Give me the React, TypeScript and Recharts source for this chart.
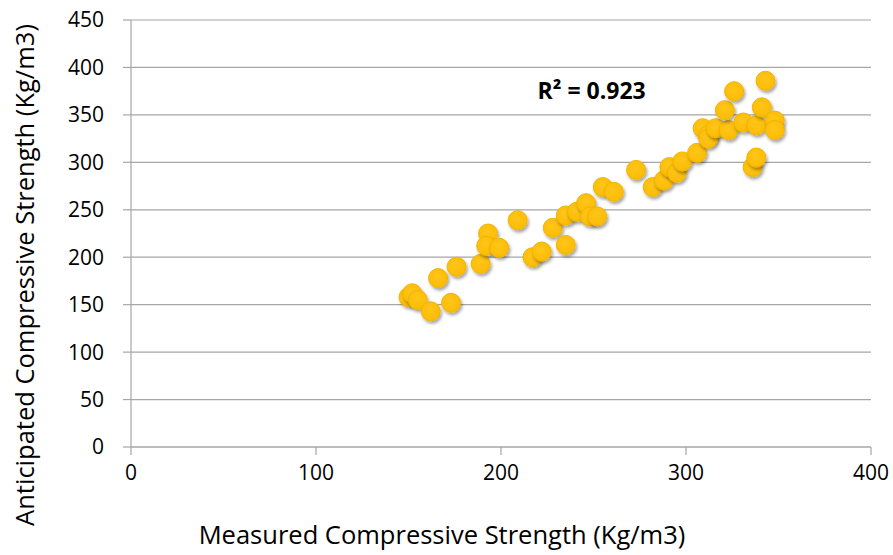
import { ScatterChart, Scatter, XAxis, YAxis, CartesianGrid, ReferenceDot } from 'recharts';

const measured = [
  150, 152, 155, 162, 173, 166, 176, 189, 193, 192, 199, 209, 217, 222, 228, 235,
  235, 241, 246, 248, 252, 255, 261, 273, 282, 288, 291, 295, 298, 306, 309, 312,
  312, 316, 323, 321, 326, 331, 338, 341, 343, 336, 338, 348, 348,
];
const anticipated = [
  158, 162, 155, 143, 152, 178, 190, 193, 225, 212, 210, 239, 200, 206, 231, 213,
  244, 248, 257, 243, 243, 274, 269, 292, 274, 281, 295, 289, 301, 310, 336, 329,
  325, 336, 334, 355, 375, 342, 339, 358, 386, 295, 305, 344, 334,
];
const xTicks = [0, 100, 200, 300, 400];
const yTicks = [0, 50, 100, 150, 200, 250, 300, 350, 400, 450];
const xTitle = 'Measured Compressive Strength (Kg/m3)';
const yTitle = 'Anticipated Compressive Strength (Kg/m3)';
const rSquared = 'R² = 0.923';

const points = measured.map((x, i) => ({ x, y: anticipated[i] }));

const FONT = '"Open Sans", sans-serif';
const GRID = '#A6A6A6';

function Dot(props: any) {
  const { cx, cy } = props;
  return (
    <circle
      cx={cx}
      cy={cy}
      r={9.5}
      fill="url(#goldFill)"
      stroke="#F0B400"
      strokeWidth={1}
      filter="url(#dotShadow)"
    />
  );
}

// axis titles sit centred on the whole picture, not on the plot area
const XTitle = () => (
  <text x={442} y={534} textAnchor="middle" dominantBaseline="central" fill="#000" fontSize={25.5} fontFamily={FONT}>
    {xTitle}
  </text>
);

const YTitle = () => (
  <text
    x={24}
    y={275}
    transform="rotate(-90 24 275)"
    textAnchor="middle"
    dominantBaseline="central"
    fill="#000"
    fontSize={25.5}
    fontFamily={FONT}
  >
    {yTitle}
  </text>
);

export default function App() {
  return (
    <div style={{ position: 'absolute', left: 0, top: 0, width: 893, height: 555, background: '#fff' }}>
      <svg width={0} height={0} style={{ position: 'absolute' }}>
        <defs>
          <radialGradient id="goldFill" cx="45%" cy="40%" r="65%">
            <stop offset="0%" stopColor="#FFC61A" />
            <stop offset="100%" stopColor="#FCBA00" />
          </radialGradient>
          <filter id="dotShadow" x="-50%" y="-50%" width="200%" height="200%">
            <feDropShadow dx={1.5} dy={2.5} stdDeviation={1.8} floodColor="#000" floodOpacity={0.35} />
          </filter>
        </defs>
      </svg>
      <ScatterChart width={893} height={555} margin={{ top: 20, right: 22, bottom: 0, left: 0 }}>
        <CartesianGrid vertical={false} stroke={GRID} strokeWidth={1.2} />
        <XAxis
          type="number"
          dataKey="x"
          domain={[0, 400]}
          ticks={xTicks}
          interval={0}
          height={108}
          tickSize={8}
          tickMargin={10}
          axisLine={{ stroke: GRID, strokeWidth: 1.2 }}
          tickLine={{ stroke: GRID, strokeWidth: 1.2 }}
          tick={{ fill: '#000', fontSize: 21, fontFamily: FONT }}
          label={<XTitle />}
        />
        <YAxis
          type="number"
          dataKey="y"
          domain={[0, 450]}
          ticks={yTicks}
          interval={0}
          width={131}
          tickSize={8}
          tickMargin={19}
          axisLine={{ stroke: GRID, strokeWidth: 1.2 }}
          tickLine={{ stroke: GRID, strokeWidth: 1.2 }}
          tick={{ fill: '#000', fontSize: 21, fontFamily: FONT }}
          label={<YTitle />}
        />
        <Scatter data={points} shape={<Dot />} isAnimationActive={false} />
        <ReferenceDot
          x={249}
          y={375}
          r={0}
          fill="none"
          stroke="none"
          label={{
            value: rSquared,
            position: 'center',
            fill: '#000',
            fontSize: 23,
            fontWeight: 700,
            fontFamily: FONT,
          }}
        />
      </ScatterChart>
    </div>
  );
}
